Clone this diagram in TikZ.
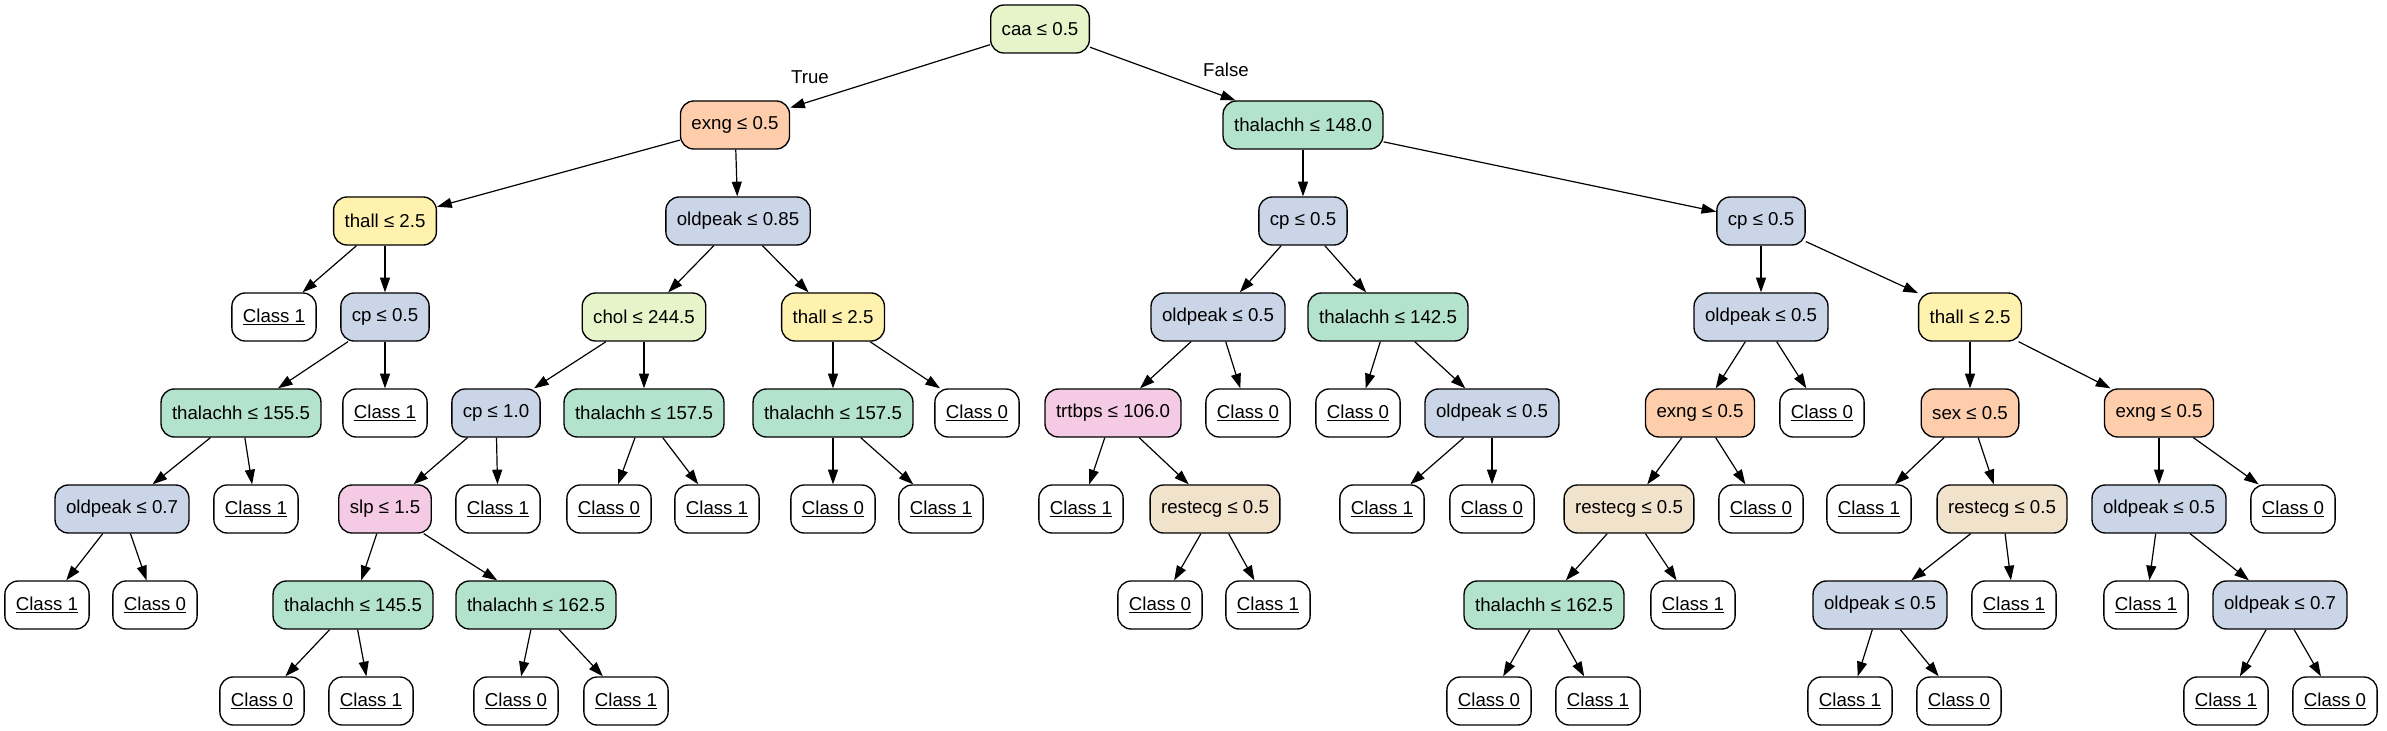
\documentclass[tikz,border=0pt]{standalone}
\usepackage{fontspec}
\setmainfont{Liberation Sans}
\usepackage{tikz}
\usetikzlibrary{arrows.meta}

\definecolor{pgreen}{HTML}{B3E2CD}
\definecolor{porange}{HTML}{FDCDAC}
\definecolor{pblue}{HTML}{CBD5E8}
\definecolor{ppink}{HTML}{F4CAE4}
\definecolor{plime}{HTML}{E6F5C9}
\definecolor{pyellow}{HTML}{FFF2AE}
\definecolor{pbeige}{HTML}{F1E2CC}

\newcommand{\cls}[1]{\setbox0=\hbox{Class #1}\rlap{\rule[-2pt]{\wd0}{1.1pt}}\box0}

\begin{document}
\begin{tikzpicture}[x=0.75pt, y=-0.75pt,
		split/.style={draw, line width=1pt, rounded corners=10pt, minimum height=36pt,
			minimum width=54pt, inner xsep=8.25pt, font=\fontsize{14}{16}\selectfont},
		leaf/.style={split, fill=white},
		edge/.style={-{Triangle[length=11pt,width=7.5pt]}, line width=0.9pt},
		lbl/.style={font=\fontsize{14}{16}\selectfont}]
		
		\useasboundingbox (0,0) rectangle (2387,731);
		
		% root and first splits
		\node[split, fill=plime] (r) at (1040,29) {caa ≤ 0.5};
		\node[split, fill=porange] (rl) at (735,125) {exng ≤ 0.5};
		\node[split, fill=pgreen] (rr) at (1303,125) {thalachh ≤ 148.0};
		\node[lbl] (tlab) at (810,77) {True};
		\node[lbl] (flab) at (1226,70) {False};
		
		% depth 2
		\node[split, fill=pyellow] (rll) at (385,221) {thall ≤ 2.5};
		\node[split, fill=pblue] (rlr) at (738,221) {oldpeak ≤ 0.85};
		\node[split, fill=pblue] (rrl) at (1303,221) {cp ≤ 0.5};
		\node[split, fill=pblue] (rrr) at (1761,221) {cp ≤ 0.5};
		
		% depth 3
		\node[split, fill=pblue] (rllr) at (385,317) {cp ≤ 0.5};
		\node[split, fill=plime] (rlrl) at (644,317) {chol ≤ 244.5};
		\node[split, fill=pyellow] (rlrr) at (833,317) {thall ≤ 2.5};
		\node[split, fill=pblue] (rrll) at (1218,317) {oldpeak ≤ 0.5};
		\node[split, fill=pgreen] (rrlr) at (1388,317) {thalachh ≤ 142.5};
		\node[split, fill=pblue] (rrrl) at (1761,317) {oldpeak ≤ 0.5};
		\node[split, fill=pyellow] (rrrr) at (1970,317) {thall ≤ 2.5};
		
		% depth 4
		\node[split, fill=pgreen] (rllrl) at (241,413) {thalachh ≤ 155.5};
		\node[split, fill=pblue] (rlrll) at (496,413) {cp ≤ 1.0};
		\node[split, fill=pgreen] (rlrlr) at (644,413) {thalachh ≤ 157.5};
		\node[split, fill=pgreen] (rlrrl) at (833,413) {thalachh ≤ 157.5};
		\node[split, fill=ppink] (rrlll) at (1113,413) {trtbps ≤ 106.0};
		\node[split, fill=pblue] (rrlrr) at (1492,413) {oldpeak ≤ 0.5};
		\node[split, fill=porange] (rrrll) at (1700,413) {exng ≤ 0.5};
		\node[split, fill=porange] (rrrrl) at (1970,413) {sex ≤ 0.5};
		\node[split, fill=porange] (rrrrr) at (2159,413) {exng ≤ 0.5};
		
		% depth 5
		\node[split, fill=pblue] (rllrll) at (122,509) {oldpeak ≤ 0.7};
		\node[split, fill=ppink] (rlrlll) at (385,509) {slp ≤ 1.5};
		\node[split, fill=pbeige] (rrlllr) at (1215,509) {restecg ≤ 0.5};
		\node[split, fill=pbeige] (rrrlll) at (1629,509) {restecg ≤ 0.5};
		\node[split, fill=pbeige] (rrrrlr) at (2002,509) {restecg ≤ 0.5};
		\node[split, fill=pblue] (rrrrrl) at (2159,509) {oldpeak ≤ 0.5};
		
		% depth 6
		\node[split, fill=pgreen] (rlrllll) at (353,605) {thalachh ≤ 145.5};
		\node[split, fill=pgreen] (rlrlllr) at (536,605) {thalachh ≤ 162.5};
		\node[split, fill=pgreen] (rrrllll) at (1544,605) {thalachh ≤ 162.5};
		\node[split, fill=pblue] (rrrrlrl) at (1880,605) {oldpeak ≤ 0.5};
		\node[split, fill=pblue] (rrrrrlr) at (2280,605) {oldpeak ≤ 0.7};
		
		% leaves
		\foreach \n/\x/\y/\c in {rlll/274/317/1, rllrr/385/413/1, rlrrr/977/413/0,
			rrllr/1248/413/0, rrlrl/1358/413/0, rrrlr/1822/413/0,
			rllrlr/256/509/1, rlrllr/498/509/1, rlrlrl/609/509/0, rlrlrr/717/509/1,
			rlrrll/833/509/0, rlrrlr/941/509/1, rrllll/1081/509/1, rrlrrl/1382/509/1,
			rrlrrr/1492/509/0, rrrllr/1761/509/0, rrrrll/1869/509/1, rrrrrr/2293/509/0,
			rllrlll/47/605/1, rllrllr/155/605/0, rrlllrl/1160/605/0, rrlllrr/1268/605/1,
			rrrlllr/1693/605/1, rrrrlrr/2014/605/1, rrrrrll/2146/605/1,
			rlrlllll/262/701/0, rlrllllr/371/701/1, rlrlllrl/516/701/0, rlrlllrr/626/701/1,
			rrrlllll/1489/701/0, rrrllllr/1598/701/1, rrrrlrll/1850/701/1,
			rrrrlrlr/1959/701/0, rrrrrlrl/2226/701/1, rrrrrlrr/2335/701/0}{
			\node[leaf] (\n) at (\x,\y) {\cls{\c}};
		}
		
		% connectors
		\foreach \a/\b in {r/rl, r/rr, rl/rll, rl/rlr, rr/rrl, rr/rrr,
			rll/rlll, rll/rllr, rlr/rlrl, rlr/rlrr, rrl/rrll, rrl/rrlr, rrr/rrrl, rrr/rrrr,
			rllr/rllrl, rllr/rllrr, rlrl/rlrll, rlrl/rlrlr, rlrr/rlrrl, rlrr/rlrrr,
			rrll/rrlll, rrll/rrllr, rrlr/rrlrl, rrlr/rrlrr, rrrl/rrrll, rrrl/rrrlr,
			rrrr/rrrrl, rrrr/rrrrr,
			rllrl/rllrll, rllrl/rllrlr, rlrll/rlrlll, rlrll/rlrllr, rlrlr/rlrlrl, rlrlr/rlrlrr,
			rlrrl/rlrrll, rlrrl/rlrrlr, rrlll/rrllll, rrlll/rrlllr, rrlrr/rrlrrl, rrlrr/rrlrrr,
			rrrll/rrrlll, rrrll/rrrllr, rrrrl/rrrrll, rrrrl/rrrrlr, rrrrr/rrrrrl, rrrrr/rrrrrr,
			rllrll/rllrlll, rllrll/rllrllr, rlrlll/rlrllll, rlrlll/rlrlllr,
			rrlllr/rrlllrl, rrlllr/rrlllrr, rrrlll/rrrllll, rrrlll/rrrlllr,
			rrrrlr/rrrrlrl, rrrrlr/rrrrlrr, rrrrrl/rrrrrll, rrrrrl/rrrrrlr,
			rlrllll/rlrlllll, rlrllll/rlrllllr, rlrlllr/rlrlllrl, rlrlllr/rlrlllrr,
			rrrllll/rrrlllll, rrrllll/rrrllllr, rrrrlrl/rrrrlrll, rrrrlrl/rrrrlrlr,
			rrrrrlr/rrrrrlrl, rrrrrlr/rrrrrlrr}{
			\draw[edge] (\a) -- (\b);
		}
		
	\end{tikzpicture}
\end{document}
